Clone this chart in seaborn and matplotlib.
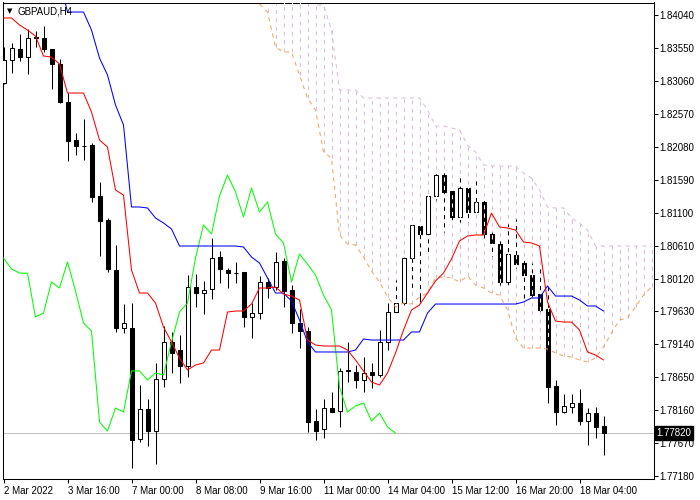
import numpy as np
import pandas as pd
import matplotlib
matplotlib.use("Agg")
import matplotlib.pyplot as plt
from matplotlib.transforms import blended_transform_factory
import seaborn as sns

nan = np.nan

# ---- GBPAUD H4 candles (bar 0 = 2 Mar 2022 08:00) ----
opens = [
    1.83032, 1.83375, 1.83538, 1.83419, 1.83702, 1.83702, 1.83538, 1.83315, 1.82749, 1.82183,
    1.82094, 1.82109, 1.81350, 1.80992, 1.80248, 1.79384, 1.79384, 1.77731, 1.78178, 1.77850,
    1.78625, 1.79176, 1.79056, 1.78818, 1.79995, 1.79905, 1.79965, 1.80441, 1.80248, 1.80203,
    1.80218, 1.79548, 1.79607, 1.80069, 1.79995, 1.80382, 1.79950, 1.79459, 1.79339, 1.77999,
    1.77880, 1.78193, 1.78148, 1.78759, 1.78729, 1.78610, 1.78729, 1.78684, 1.79176, 1.79622,
    1.79756, 1.80426, 1.80903, 1.80784, 1.81350, 1.81662, 1.81424, 1.81037, 1.81469, 1.81111,
    1.81260, 1.80784, 1.80635, 1.80069, 1.80471, 1.80352, 1.80173, 1.79890, 1.79667, 1.78520,
    1.78133, 1.78208, 1.78267, 1.77999, 1.78118, 1.77925]
highs = [
    1.83568, 1.83628, 1.83762, 1.83836, 1.83806, 1.83881, 1.83538, 1.83389, 1.82883, 1.82288,
    1.82496, 1.82139, 1.81558, 1.81022, 1.80620, 1.79741, 1.79756, 1.78535, 1.78327, 1.78863,
    1.79414, 1.79325, 1.79280, 1.80173, 1.80188, 1.80084, 1.80724, 1.80531, 1.80277, 1.80367,
    1.80218, 1.79756, 1.80158, 1.80129, 1.80516, 1.80426, 1.80024, 1.79667, 1.79399, 1.78178,
    1.78327, 1.78431, 1.78788, 1.79176, 1.78833, 1.78952, 1.78863, 1.79354, 1.79756, 1.80099,
    1.80501, 1.80948, 1.80948, 1.81394, 1.81692, 1.81707, 1.81469, 1.81662, 1.81513, 1.81603,
    1.81335, 1.80814, 1.80694, 1.80933, 1.81007, 1.80397, 1.80352, 1.80277, 1.79995, 1.78610,
    1.78401, 1.78401, 1.78476, 1.78193, 1.78208, 1.78074]
lows = [
    1.83017, 1.83181, 1.83360, 1.83166, 1.83568, 1.83494, 1.82943, 1.82734, 1.81871, 1.81960,
    1.81886, 1.81260, 1.80456, 1.80218, 1.79325, 1.79310, 1.77299, 1.77687, 1.77627, 1.77359,
    1.78506, 1.78714, 1.78565, 1.78654, 1.79697, 1.79593, 1.79816, 1.80054, 1.79980, 1.80054,
    1.79399, 1.79235, 1.79518, 1.79831, 1.79950, 1.79697, 1.79310, 1.79086, 1.77836, 1.77716,
    1.77746, 1.78133, 1.77910, 1.78580, 1.78491, 1.78431, 1.78491, 1.78654, 1.79056, 1.79622,
    1.79727, 1.79980, 1.79771, 1.80471, 1.81290, 1.80814, 1.80962, 1.80962, 1.80962, 1.81096,
    1.80694, 1.80456, 1.80024, 1.80024, 1.80277, 1.79771, 1.79846, 1.79637, 1.78267, 1.77940,
    1.78118, 1.78118, 1.77940, 1.77642, 1.77746, 1.77493]
closes = [
    1.83375, 1.83553, 1.83419, 1.83702, 1.83712, 1.83538, 1.83315, 1.82749, 1.82169, 1.82094,
    1.82090, 1.81335, 1.80977, 1.80263, 1.79384, 1.79459, 1.77716, 1.78178, 1.77850, 1.78625,
    1.79176, 1.79012, 1.78818, 1.79995, 1.79905, 1.79950, 1.80426, 1.80263, 1.80203, 1.80200,
    1.79548, 1.79607, 1.80069, 1.79980, 1.80367, 1.79935, 1.79459, 1.79339, 1.77984, 1.77850,
    1.78193, 1.78133, 1.78744, 1.78744, 1.78610, 1.78714, 1.78684, 1.79176, 1.79622, 1.79756,
    1.80426, 1.80918, 1.80784, 1.81350, 1.81662, 1.81409, 1.81037, 1.81469, 1.81111, 1.81260,
    1.80784, 1.80650, 1.80069, 1.80486, 1.80337, 1.80173, 1.79875, 1.79652, 1.78506, 1.78133,
    1.78223, 1.78267, 1.77999, 1.78118, 1.77910, 1.77820]

# ---- Ichimoku lines ----
tenkan = [
    1.84000, 1.84000, 1.83896, 1.83821, 1.83732, 1.83434, 1.83419, 1.83315, 1.82883, 1.82883,
    1.82883, 1.82600, 1.82183, 1.82079, 1.81439, 1.81364, 1.80248, 1.79905, 1.79905, 1.79756,
    1.79399, 1.79176, 1.78937, 1.78759, 1.78833, 1.78863, 1.79056, 1.79056, 1.79622, 1.79637,
    1.79637, 1.79741, 1.79980, 1.79980, 1.79995, 1.79890, 1.79860, 1.79801, 1.79205, 1.79131,
    1.79116, 1.79116, 1.79116, 1.79056, 1.78908, 1.78744, 1.78580, 1.78535, 1.78714, 1.79012,
    1.79354, 1.79652, 1.79727, 1.79905, 1.80084, 1.80203, 1.80411, 1.80680, 1.80754, 1.80769,
    1.80769, 1.81096, 1.80888, 1.80873, 1.80843, 1.80665, 1.80650, 1.80605, 1.79771, 1.79488,
    1.79473, 1.79473, 1.79354, 1.79027, 1.78982, 1.78908]
kijun = [
    nan, nan, nan, nan, nan, nan, nan, 1.84570, 1.84089, 1.84089,
    1.84089, 1.83821, 1.83404, 1.83151, 1.82705, 1.82407, 1.81186, 1.81186, 1.81171, 1.81022,
    1.80948, 1.80858, 1.80605, 1.80605, 1.80605, 1.80605, 1.80605, 1.80605, 1.80605, 1.80605,
    1.80590, 1.80441, 1.80352, 1.80129, 1.79905, 1.79905, 1.79786, 1.79503, 1.79176, 1.79027,
    1.79027, 1.79027, 1.79027, 1.79027, 1.79056, 1.79220, 1.79205, 1.79205, 1.79205, 1.79205,
    1.79205, 1.79325, 1.79325, 1.79607, 1.79741, 1.79741, 1.79741, 1.79741, 1.79741, 1.79741,
    1.79741, 1.79741, 1.79741, 1.79741, 1.79741, 1.79771, 1.79831, 1.79831, 1.80010, 1.79860,
    1.79860, 1.79860, 1.79801, 1.79712, 1.79712, 1.79637]
senkou_a = [nan] * 32 + [
    1.84208, 1.84089, 1.83568, 1.83494, 1.83494, 1.83151, 1.82809, 1.82630,
    1.82005, 1.81915, 1.80769, 1.80635, 1.80620, 1.80441, 1.80233, 1.80069, 1.79846, 1.79697,
    1.79756, 1.79741, 1.79846, 1.79905, 1.80129, 1.80143, 1.80129, 1.80069, 1.80158, 1.80024,
    1.79980, 1.79905, 1.79875, 1.79652, 1.79235, 1.79086, 1.79086, 1.79086, 1.79071, 1.79012,
    1.78967, 1.78952, 1.78908, 1.78878, 1.78937, 1.79101, 1.79310, 1.79503, 1.79533, 1.79697,
    1.79875, 1.79995]
senkou_b = [nan] * 32 + [
    1.84450, 1.84450, 1.84450, 1.84450, 1.84450, 1.84450, 1.84450, 1.84194,
    1.84194, 1.83821, 1.82928, 1.82928, 1.82928, 1.82809, 1.82809, 1.82809, 1.82809, 1.82809,
    1.82809, 1.82809, 1.82809, 1.82630, 1.82392, 1.82392, 1.82362, 1.82332, 1.82109, 1.82005,
    1.81811, 1.81796, 1.81796, 1.81796, 1.81796, 1.81692, 1.81618, 1.81439, 1.81186, 1.81171,
    1.81171, 1.81022, 1.80948, 1.80843, 1.80605, 1.80605, 1.80605, 1.80605, 1.80605, 1.80605,
    1.80605, 1.80605]

chikou_shift = 26
current_price = 1.77820

x_tick_bars = [0, 8, 16, 24, 32, 40, 48, 56, 64, 72]
x_tick_labels = ["2 Mar 2022", "3 Mar 16:00", "7 Mar 00:00", "8 Mar 08:00", "9 Mar 16:00",
                 "11 Mar 00:00", "14 Mar 04:00", "15 Mar 12:00", "16 Mar 20:00", "18 Mar 04:00"]
y_ticks = [1.84040, 1.83550, 1.83060, 1.82570, 1.82080, 1.81590, 1.81100, 1.80610,
           1.80120, 1.79630, 1.79140, 1.78650, 1.78160, 1.77670, 1.77180]

# ---------------- drawing ----------------
sns.set_style("white")
plt.rcParams['font.family'] = ['Liberation Sans', 'DejaVu Sans']
plt.rcParams['lines.scale_dashes'] = False

o = np.array(opens); h = np.array(highs); l = np.array(lows); c = np.array(closes)
n = len(c)
bars = np.arange(n)
A = np.array(senkou_a); B = np.array(senkou_b)
cbars = np.arange(len(A))

fig = plt.figure(figsize=(7, 5), dpi=100)
ax = fig.add_axes([2.5 / 700, 21 / 500, 651 / 700, 476.5 / 500])
ax.set_facecolor("white")

LW = 0.75
ax.axhline(current_price, color="#C0C0C0", lw=LW, zorder=1)

# cloud hatch
m = ~np.isnan(A)
ax.vlines(cbars[m], A[m], B[m], colors="#D8BFD8", linestyles=(0, (3, 3)), lw=LW, zorder=2)

# candles
ax.vlines(bars, l, h, colors="black", lw=LW, zorder=3)
up = c >= o
ax.bar(bars, np.abs(c - o), bottom=np.minimum(o, c), width=0.5,
       color=np.where(up, "white", "black"), edgecolor="black", linewidth=LW, zorder=4)

# gaps of the cloud hatch drawn over the candles
mc = m[:n]
ax.vlines(bars[mc], A[:n][mc], B[:n][mc], colors="white", linestyles=(3, (3, 3)), lw=LW, zorder=5)

# indicator lines
df = pd.DataFrame({"bar": bars, "tenkan": tenkan, "kijun": kijun})
dch = pd.DataFrame({"bar": bars[: n - chikou_shift], "chikou": c[chikou_shift:]})
dcl = pd.DataFrame({"bar": cbars, "a": A, "b": B})

sns.lineplot(data=dcl, x="bar", y="b", color="#D8BFD8", lw=LW, linestyle=(0, (3, 3)),
             estimator=None, sort=False, ax=ax, zorder=6)
sns.lineplot(data=dcl, x="bar", y="a", color="#F4A460", lw=LW, linestyle=(0, (3, 3)),
             estimator=None, sort=False, ax=ax, zorder=6)
sns.lineplot(data=dch, x="bar", y="chikou", color="#00FF00", lw=LW,
             estimator=None, sort=False, ax=ax, zorder=7)
sns.lineplot(data=df, x="bar", y="kijun", color="#0000FF", lw=LW,
             estimator=None, sort=False, ax=ax, zorder=7)
sns.lineplot(data=df, x="bar", y="tenkan", color="#FF0000", lw=LW,
             estimator=None, sort=False, ax=ax, zorder=8)

ax.set_xlim(-0.125, 81.25)
ax.set_ylim(1.771357, 1.842308)
ax.set_xlabel("")
ax.set_ylabel("")

ax.yaxis.tick_right()
ax.set_yticks(y_ticks)
ax.set_yticklabels([f"{v:.5f}" for v in y_ticks])
ax.tick_params(axis="y", direction="out", length=3, width=LW, pad=1.5, labelsize=7,
               right=True, labelright=True, left=False, labelleft=False, colors="black")
ax.set_xticks(x_tick_bars)
ax.set_xticklabels(x_tick_labels, ha="left")
ax.tick_params(axis="x", direction="out", length=3, width=LW, pad=2, labelsize=7,
               bottom=True, labelbottom=True, colors="black")
for s in ax.spines.values():
    s.set_linewidth(LW)
    s.set_color("black")
    s.set_visible(True)

trans = blended_transform_factory(ax.transAxes, ax.transData)
ax.text(1.0045, current_price, "1.77820", transform=trans, color="white", fontsize=7,
        va="center", ha="left", clip_on=False, zorder=10,
        bbox=dict(boxstyle="square,pad=0.18", fc="black", ec="black"))

fig.text(7 / 700, 1 - 11 / 500, "\u25BC", fontsize=5, va="center", ha="left",
         family=["DejaVu Sans"], color="black")
fig.text(18 / 700, 1 - 11 / 500, "GBPAUD,H4", fontsize=7, va="center", ha="left", color="black")

fig.savefig("out.png", dpi=100)
